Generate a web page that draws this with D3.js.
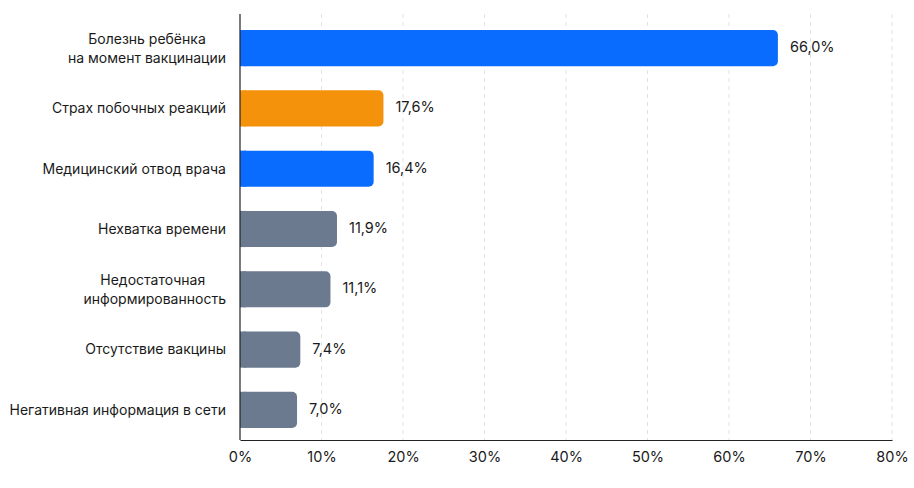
<!DOCTYPE html>
<html>
<head>
<meta charset="utf-8">
<script src="https://cdn.jsdelivr.net/npm/d3@7"></script>
<style>
  body { margin: 0; background: #fff; }
  svg { display: block; font-family: Inter, "Noto Sans", sans-serif; }
</style>
</head>
<body>
<div id="chart"></div>
<script>
// reasons, top to bottom (lines split with "|")
const reasons = [
  "Болезнь ребёнка|на момент вакцинации",
  "Страх побочных реакций",
  "Медицинский отвод врача",
  "Нехватка времени",
  "Недостаточная |информированность",
  "Отсутствие вакцины",
  "Негативная информация в сети"
];
const shares = [66.0, 17.6, 16.4, 11.9, 11.1, 7.4, 7.0];
const groups = ["blue", "orange", "blue", "gray", "gray", "gray", "gray"];
const xTicks = [0, 10, 20, 30, 40, 50, 60, 70, 80];

const width = 914, height = 488;
const margin = { top: 18, right: 22, bottom: 48, left: 240 };

const colorScale = d3.scaleOrdinal()
  .domain(["blue", "orange", "gray"])
  .range(["#0a6cff", "#f5920b", "#6b7a8f"]);

const data = reasons.map((r, i) => ({ reason: r, share: shares[i], group: groups[i] }));

const svg = d3.select("#chart")
  .append("svg")
    .attr("width", width)
    .attr("height", height);

const xScale = d3.scaleLinear()
  .domain([0, 80])
  .range([margin.left, width - margin.right]);

const yScale = d3.scaleBand()
  .domain(reasons)
  .range([margin.top, height - margin.bottom])
  .paddingInner(0.4)
  .paddingOuter(0.2);

// dashed gridlines
svg.append("g")
  .selectAll("line")
  .data(xTicks.filter(t => t > 0))
  .join("line")
    .attr("x1", d => xScale(d))
    .attr("x2", d => xScale(d))
    .attr("y1", margin.top - 4)
    .attr("y2", height - margin.bottom)
    .attr("stroke", "#e3e3e3")
    .attr("stroke-dasharray", "4,4");

// bars
svg.append("g")
  .selectAll("rect")
  .data(data)
  .join("rect")
    .attr("x", xScale(0))
    .attr("y", d => yScale(d.reason))
    .attr("width", d => xScale(d.share) - xScale(0))
    .attr("height", yScale.bandwidth())
    .attr("rx", 5)
    .attr("fill", d => colorScale(d.group));

// cover left rounded corners so bars sit flush on the axis
svg.append("g")
  .selectAll("rect")
  .data(data)
  .join("rect")
    .attr("x", xScale(0))
    .attr("y", d => yScale(d.reason))
    .attr("width", 6)
    .attr("height", yScale.bandwidth())
    .attr("fill", d => colorScale(d.group));

// value labels
svg.append("g")
  .selectAll("text")
  .data(data)
  .join("text")
    .attr("x", d => xScale(d.share) + 12)
    .attr("y", d => yScale(d.reason) + yScale.bandwidth() / 2)
    .attr("dominant-baseline", "middle")
    .attr("fill", "#1a1a1a")
    .style("font-size", "14.5px")
    .text(d => d.share.toFixed(1).replace(".", ",") + "%");

// category labels, lines centered on each other, block right aligned
const labels = svg.append("g")
  .selectAll("text")
  .data(data)
  .join("text")
    .attr("fill", "#1a1a1a")
    .attr("text-anchor", "middle")
    .style("font-size", "14px");

labels.each(function(d) {
  const lines = d.reason.split("|");
  const t = d3.select(this);
  const cy = yScale(d.reason) + yScale.bandwidth() / 2;
  const lh = 19;
  lines.forEach((line, i) => {
    t.append("tspan")
      .attr("y", cy + (i - (lines.length - 1) / 2) * lh)
      .attr("dy", "0.35em")
      .text(line);
  });
  let maxW = 0;
  t.selectAll("tspan").each(function() {
    maxW = Math.max(maxW, this.getComputedTextLength());
  });
  t.selectAll("tspan").attr("x", margin.left - 14 - maxW / 2);
});

// axes
svg.append("line")
  .attr("x1", xScale(0)).attr("x2", xScale(0))
  .attr("y1", margin.top - 4).attr("y2", height - margin.bottom)
  .attr("stroke", "#222").attr("stroke-width", 1.2);

const xAxis = svg.append("g")
  .attr("transform", `translate(0, ${height - margin.bottom})`)
  .call(d3.axisBottom(xScale).tickValues(xTicks).tickSize(0).tickPadding(12)
    .tickFormat(d => d + "%"));

xAxis.select(".domain").attr("stroke", "#222").attr("stroke-width", 1.2);
xAxis.selectAll("text")
  .attr("fill", "#1a1a1a")
  .style("font-size", "14.5px")
  .style("font-family", "Inter, 'Noto Sans', sans-serif");
</script>
</body>
</html>
